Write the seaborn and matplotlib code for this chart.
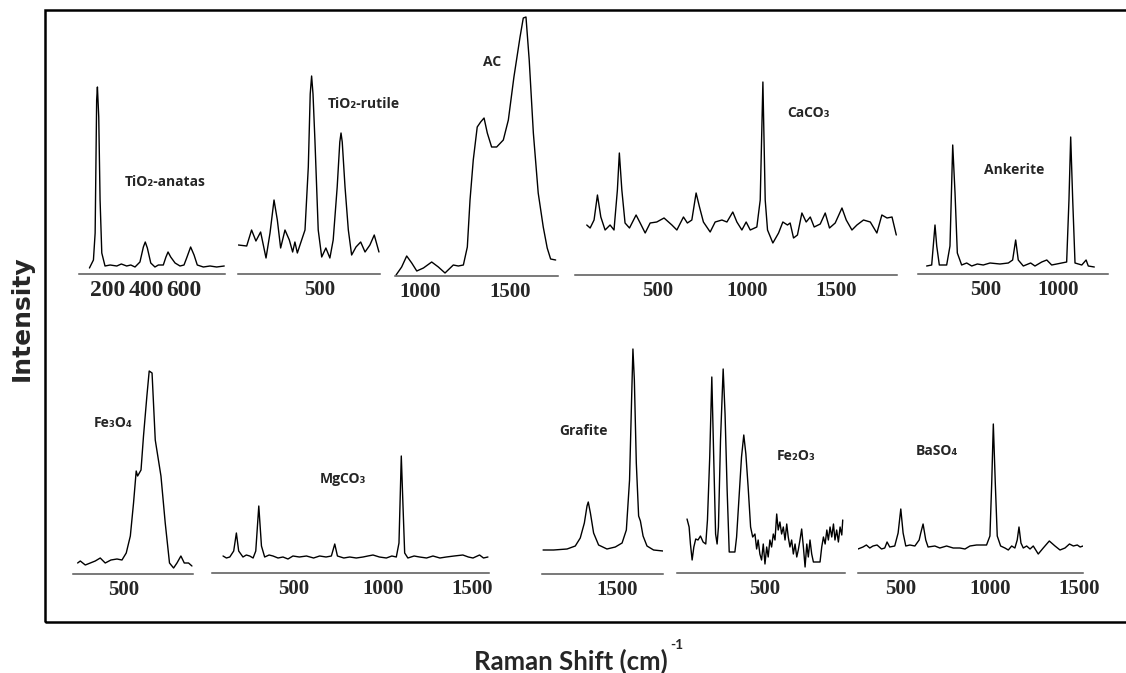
import matplotlib
matplotlib.use("Agg")
import matplotlib.pyplot as plt
import seaborn as sns
from matplotlib.patches import Rectangle

# ---- spectra (Raman shift in cm-1, intensity in a.u.) ----
anatas_shift = [102, 123, 132, 140, 144, 151, 158, 167, 184, 211, 246, 270, 298, 320, 342, 368,
                386, 396, 407, 425, 447, 465, 491, 505, 516, 530, 553, 579, 600, 614, 635,
                653, 670, 702, 737, 772, 812]
anatas_int = [6, 14, 41, 174, 187, 157, 74, 21, 8, 9, 8, 10, 8, 9, 7, 12,
              27, 32, 26, 11, 7, 9, 9, 17, 22, 17, 11, 8, 9, 16, 27,
              19, 9, 7, 8, 7, 8]

rutile_shift = [35, 83, 111, 136, 163, 194, 217, 240, 259, 278, 303, 328, 347, 360, 374, 393,
                418, 437, 448, 456, 464, 475, 494, 514, 538, 561, 580, 603, 618, 625, 632,
                648, 667, 686, 711, 738, 763, 791, 816, 843]
rutile_int = [29, 28, 44, 33, 42, 16, 41, 74, 54, 26, 44, 34, 22, 32, 21, 31,
              44, 107, 180, 198, 180, 134, 44, 17, 26, 16, 34, 87, 132, 141, 132,
              87, 44, 19, 27, 32, 22, 29, 39, 22]

ac_shift = [867, 898, 926, 954, 982, 1019, 1065, 1102, 1139, 1185, 1213, 1241, 1263, 1278,
            1296, 1318, 1337, 1356, 1374, 1398, 1426, 1463, 1491, 1522, 1556, 1574, 1589,
            1607, 1630, 1657, 1685, 1707, 1726, 1754]
ac_int = [1, 9, 20, 13, 5, 8, 14, 9, 3, 11, 10, 11, 29, 76,
          116, 149, 154, 158, 143, 129, 129, 136, 156, 199, 239, 258, 259,
          216, 143, 83, 49, 28, 17, 16]

caco3_shift = [101, 120, 142, 161, 180, 204, 232, 254, 273, 284, 298, 316, 341, 378, 401, 429,
               457, 494, 535, 579, 607, 644, 666, 691, 715, 734, 756, 794, 822, 860, 888,
               921, 944, 972, 996, 1019, 1056, 1075, 1090, 1103, 1116, 1146, 1178, 1202,
               1228, 1243, 1262, 1284, 1309, 1333, 1356, 1378, 1412, 1440, 1464, 1496,
               1534, 1558, 1590, 1618, 1655, 1693, 1730, 1758, 1787, 1815, 1839]
caco3_int = [50, 47, 55, 80, 58, 45, 50, 45, 85, 122, 85, 52, 47, 60, 52, 42,
             52, 53, 57, 50, 45, 58, 52, 55, 82, 68, 53, 43, 53, 55, 53,
             63, 53, 45, 53, 45, 48, 75, 193, 75, 45, 32, 42, 53,
             50, 52, 37, 40, 62, 53, 58, 48, 51, 62, 47, 52,
             67, 55, 45, 50, 55, 53, 42, 60, 57, 58, 40]

ankerite_shift = [90, 125, 136, 148, 160, 178, 229, 252, 271, 287, 303, 333, 368, 403, 442,
                  483, 530, 599, 657, 687, 708, 726, 761, 812, 842, 889, 924, 958, 993,
                  1062, 1078, 1090, 1104, 1120, 1167, 1197, 1212, 1254]
ankerite_int = [8, 9, 28, 49, 28, 9, 9, 28, 129, 81, 21, 9, 11, 8, 10,
                9, 11, 10, 11, 14, 34, 14, 8, 11, 8, 12, 14, 9, 10,
                12, 74, 137, 74, 11, 9, 14, 8, 7]

fe3o4_shift = [242, 257, 285, 313, 341, 369, 397, 429, 463, 491, 515, 538, 556, 571, 579,
               598, 612, 631, 644, 660, 678, 710, 734, 758, 781, 800, 822, 841, 865, 884]
fe3o4_int = [11, 13, 9, 11, 13, 16, 11, 14, 15, 14, 21, 38, 71, 103, 98,
             104, 138, 178, 203, 201, 134, 98, 51, 11, 6, 11, 18, 11, 11, 8]

mgco3_shift = [101, 120, 139, 161, 176, 189, 213, 232, 251, 270, 285, 302, 317, 335, 360, 382,
               410, 438, 466, 494, 530, 570, 610, 644, 680, 710, 729, 744, 780, 813, 850,
               888, 915, 944, 980, 1019, 1050, 1075, 1090, 1103, 1112, 1122, 1140, 1175,
               1206, 1245, 1281, 1320, 1356, 1400, 1449, 1480, 1506, 1543, 1565, 1590]
mgco3_int = [17, 15, 16, 22, 40, 22, 16, 18, 17, 15, 22, 67, 27, 16, 18, 17,
             15, 16, 14, 17, 16, 17, 15, 17, 16, 17, 29, 17, 15, 16, 15,
             16, 17, 18, 16, 15, 17, 16, 30, 117, 70, 20, 15, 17,
             16, 15, 17, 15, 16, 17, 18, 16, 15, 18, 15, 16]

grafite_shift = [1081, 1140, 1216, 1262, 1290, 1313, 1328, 1335, 1347, 1365, 1393, 1440, 1487,
                 1525, 1549, 1567, 1579, 1586, 1594, 1605, 1618, 1628, 1643, 1665, 1702, 1755]
grafite_int = [24, 24, 25, 28, 36, 51, 68, 72, 61, 41, 29, 25, 27,
               31, 44, 94, 178, 225, 194, 111, 58, 53, 38, 28, 24, 23]

fe2o3_shift = [92, 103, 110, 119, 128, 138, 150, 163, 177, 191, 200, 212, 223, 233, 243, 251,
               258, 269, 283, 293, 304, 315, 333, 345, 354, 368, 380, 392, 403, 415, 428,
               439, 451, 460, 468, 477, 486, 495, 504, 513, 521, 530, 539, 548, 557, 566,
               574, 583, 592, 601, 610, 619, 627, 636, 645, 654, 663, 672, 680, 689, 698,
               707, 716, 725, 733, 742, 751, 760, 778, 795, 804, 813, 822, 831, 839, 848,
               857, 866, 874, 883, 892, 901, 910, 915]
fe2o3_int = [54, 46, 29, 13, 26, 34, 33, 37, 31, 29, 53, 116, 196, 116, 39, 29,
             46, 133, 204, 159, 83, 21, 21, 21, 36, 79, 116, 138, 119, 86, 46,
             36, 39, 24, 33, 19, 13, 29, 9, 26, 16, 33, 26, 39, 33, 59,
             43, 51, 39, 46, 33, 49, 36, 26, 33, 19, 29, 16, 23, 33, 44,
             26, 6, 29, 16, 33, 19, 11, 11, 11, 26, 36, 29, 43, 33, 46,
             36, 49, 33, 43, 31, 46, 38, 53]

baso4_shift = [260, 288, 307, 326, 344, 367, 392, 410, 423, 438, 466, 485, 500, 513, 528, 551,
               579, 603, 612, 625, 640, 653, 691, 719, 757, 794, 831, 860, 888, 925, 981,
               1000, 1010, 1019, 1030, 1041, 1060, 1084, 1103, 1122, 1140, 1153, 1163, 1174,
               1187, 1206, 1225, 1243, 1271, 1299, 1333, 1365, 1393, 1421, 1446, 1468, 1490,
               1506, 1522]
baso4_int = [24, 26, 28, 25, 27, 28, 24, 25, 31, 26, 27, 40, 64, 40, 27, 28,
             27, 33, 40, 49, 33, 26, 27, 25, 27, 25, 25, 24, 27, 28, 28,
             37, 90, 149, 90, 37, 27, 25, 23, 27, 25, 33, 46, 30,
             25, 27, 24, 27, 19, 25, 32, 27, 23, 25, 29, 27, 28,
             26, 27]

names = ["TiO₂-anatas", "TiO₂-rutile", "AC", "CaCO₃", "Ankerite",
         "Fe₃O₄", "MgCO₃", "Grafite", "Fe₂O₃", "BaSO₄"]

# ---- layout in pixels: axis left, axis right, axis line y, x range, ticks, labelled ticks ----
W, H = 1126, 673
panels = [
    (anatas_shift, anatas_int, 79, 225, 274, (47, 816), range(100, 701, 100), [200, 400, 600], 17, (165, 182)),
    (rutile_shift, rutile_int, 238, 380, 274, (33, 849), [250, 500, 750], [500], 15, (364, 104)),
    (ac_shift, ac_int, 395, 558, 276, (861, 1767), [1000, 1250, 1500, 1750], [1000, 1500], 15, (492, 62)),
    (caco3_shift, caco3_int, 575, 897, 275, (35, 1843), range(250, 1751, 250), [500, 1000, 1500], 15, (809, 113)),
    (ankerite_shift, ankerite_int, 918, 1108, 274, (30, 1349), range(250, 1251, 250), [500, 1000], 15, (1014, 170)),
    (fe3o4_shift, fe3o4_int, 73, 193, 574, (216, 890), [250, 500, 750], [500], 15, (113, 423)),
    (mgco3_shift, mgco3_int, 212, 489, 573, (39, 1596), range(250, 1501, 250), [500, 1000, 1500], 15, (343, 479)),
    (grafite_shift, grafite_int, 542, 663, 574, (1075, 1755), [1250, 1500, 1750], [1500], 15, (584, 431)),
    (fe2o3_shift, fe2o3_int, 677, 845, 573, (39, 927), [250, 500, 750], [500], 15, (796, 456)),
    (baso4_shift, baso4_int, 858, 1083, 573, (260, 1522), range(500, 1501, 250), [500, 1000, 1500], 15, (937, 451)),
]

sns.set_style("white")
plt.rcParams['font.family'] = ['Open Sans', 'DejaVu Sans']

fig = plt.figure(figsize=(W / 100, H / 100), dpi=100)

for (shift, inten, x0, x1, y_ax, xlim, ticks, labelled, tfs, lab_pos), name in zip(panels, names):
    top = 8
    ax = fig.add_axes([x0 / W, 1 - y_ax / H, (x1 - x0) / W, (y_ax - top) / H])
    ax.patch.set_alpha(0)
    sns.lineplot(x=shift, y=inten, ax=ax, color="black", linewidth=1.0, estimator=None)
    ax.set_xlim(*xlim)
    ax.set_ylim(0, y_ax - top)
    sns.despine(ax=ax, left=True, top=True, right=True)
    ax.spines['bottom'].set_color('#555555')
    ax.spines['bottom'].set_linewidth(1.1)
    ax.set_yticks([])
    ticks = list(ticks)
    ax.set_xticks(ticks)
    ax.set_xticklabels([str(t) if t in labelled else "" for t in ticks],
                       fontfamily='Liberation Serif', fontweight='bold', fontsize=tfs)
    ax.tick_params(axis='x', direction='out', length=2.5, width=0.8, color='#777777', pad=2)
    ax.set_xlabel("")
    ax.set_ylabel("")
    fig.text(lab_pos[0] / W, 1 - lab_pos[1] / H, name, ha='center', va='center',
             fontsize=10, fontweight='bold', family=['Open Sans', 'DejaVu Sans'])

# outer frame (right side runs off the picture)
fig.add_artist(Rectangle((45 / W, 1 - 622 / H), (1130 - 45) / W, (622 - 10) / H,
                         transform=fig.transFigure, fill=False, edgecolor='black', linewidth=1.8))

fig.text(22 / W, 1 - 318 / H, "Intensity", rotation=90, ha='center', va='center',
         fontsize=18, fontweight='bold', family='DejaVu Sans')
fig.text(571 / W, 1 - 661 / H, "Raman Shift (cm)", ha='center', va='center',
         fontsize=18.5, fontweight='bold', family='Lato')
fig.text(677 / W, 1 - 645 / H, "-1", ha='center', va='center',
         fontsize=10, fontweight='bold', family='Lato')

fig.savefig("out.png", dpi=100)
